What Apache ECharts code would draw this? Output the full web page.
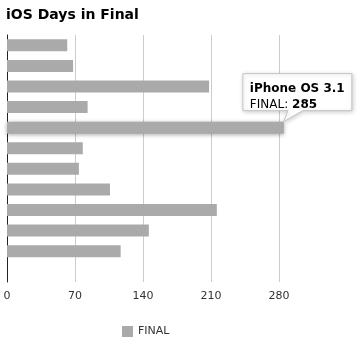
<!DOCTYPE html>
<html><head><meta charset="utf-8">
<script src="https://cdn.jsdelivr.net/npm/echarts@6/dist/echarts.min.js"></script>
<style>html,body{margin:0;padding:0;background:#fff}#c{width:361px;height:344px}</style>
</head><body><div id="c"></div>
<script>
const categories = ["iPhone OS 2.0","iPhone OS 2.1","iPhone OS 2.2","iPhone OS 3.0","iPhone OS 3.1","iPhone OS 3.2","iOS 4.0","iOS 4.1","iOS 4.2","iOS 4.3","iOS 5.0","iOS 5.1"];
const finalDays = [62, 68, 208, 83, 285, 78, 74, 106, 216, 146, 117, null];
const xTicks = [0, 70, 140, 210, 280];
const seriesName = "FINAL";
const shownIndex = 4;

const chart = echarts.init(document.getElementById('c'), null, {renderer: 'canvas'});
const font = '"DejaVu Sans", Verdana, sans-serif';
const barData = finalDays.map((v, i) => i === shownIndex ?
  {value: v, itemStyle: {color: '#aaaaaa', shadowBlur: 4, shadowColor: 'rgba(0,0,0,0.35)', shadowOffsetY: 1}} : v);

chart.setOption({
  animation: false,
  backgroundColor: '#fff',
  textStyle: {fontFamily: font},
  title: {text: 'iOS Days in Final', left: 1, top: 3,
    textStyle: {fontFamily: font, fontSize: 14, fontWeight: 'bold', color: '#000'}},
  grid: {left: 7, right: 14, top: 35, bottom: 62},
  legend: {top: 321, left: 117, itemWidth: 11, itemHeight: 11, icon: 'rect', itemGap: 6,
    textStyle: {fontFamily: font, fontSize: 11, color: '#333'}, data: [seriesName]},
  xAxis: {type: 'value', min: 0, max: 350, interval: 70,
    axisLine: {show: false}, axisTick: {show: false},
    axisLabel: {fontFamily: font, fontSize: 11, color: '#333', margin: 9,
      formatter: v => xTicks.indexOf(v) >= 0 ? String(v) : ''},
    splitLine: {show: true, lineStyle: {color: ['#ccc','#ccc','#ccc','#ccc','#ccc','rgba(0,0,0,0)'], width: 1}}},
  yAxis: {type: 'category', data: categories, inverse: true,
    axisLine: {show: true, lineStyle: {color: '#222', width: 1}},
    axisTick: {show: false}, axisLabel: {show: false}, splitLine: {show: false}},
  series: [{name: seriesName, type: 'bar', data: barData, barWidth: 12,
    itemStyle: {color: '#aaaaaa'}, emphasis: {disabled: true}, z: 2}]
});

// Callout tooltip anchored to the bar end via the chart's own scales
const tip = chart.convertToPixel({gridIndex: 0}, [finalDays[shownIndex], categories[shownIndex]]);
const tx = tip[0], ty = tip[1] - 6;
const L = tx - 41, R = tx + 68, T = ty - 48, B = ty - 11;
const calloutPts = [[L, T], [R, T], [R, B], [tx + 19, B], [tx, ty], [tx + 4, B], [L, B]];
chart.setOption({
  graphic: [
    {type: 'polygon', z: 100, shape: {points: calloutPts},
      style: {fill: '#fff', stroke: '#c4c4c4', lineWidth: 1,
        shadowBlur: 4, shadowColor: 'rgba(0,0,0,0.18)', shadowOffsetX: 1, shadowOffsetY: 1}},
    {type: 'text', z: 101, left: L + 7, top: T + 7,
      style: {text: '{b|' + categories[shownIndex] + '}\n' + seriesName + ': {b|' + finalDays[shownIndex] + '}',
        font: '12px ' + font, fill: '#000', lineHeight: 16,
        rich: {b: {fontWeight: 'bold', fontSize: 12, fontFamily: font, fill: '#000', lineHeight: 16}}}}
  ]
});
</script></body></html>
